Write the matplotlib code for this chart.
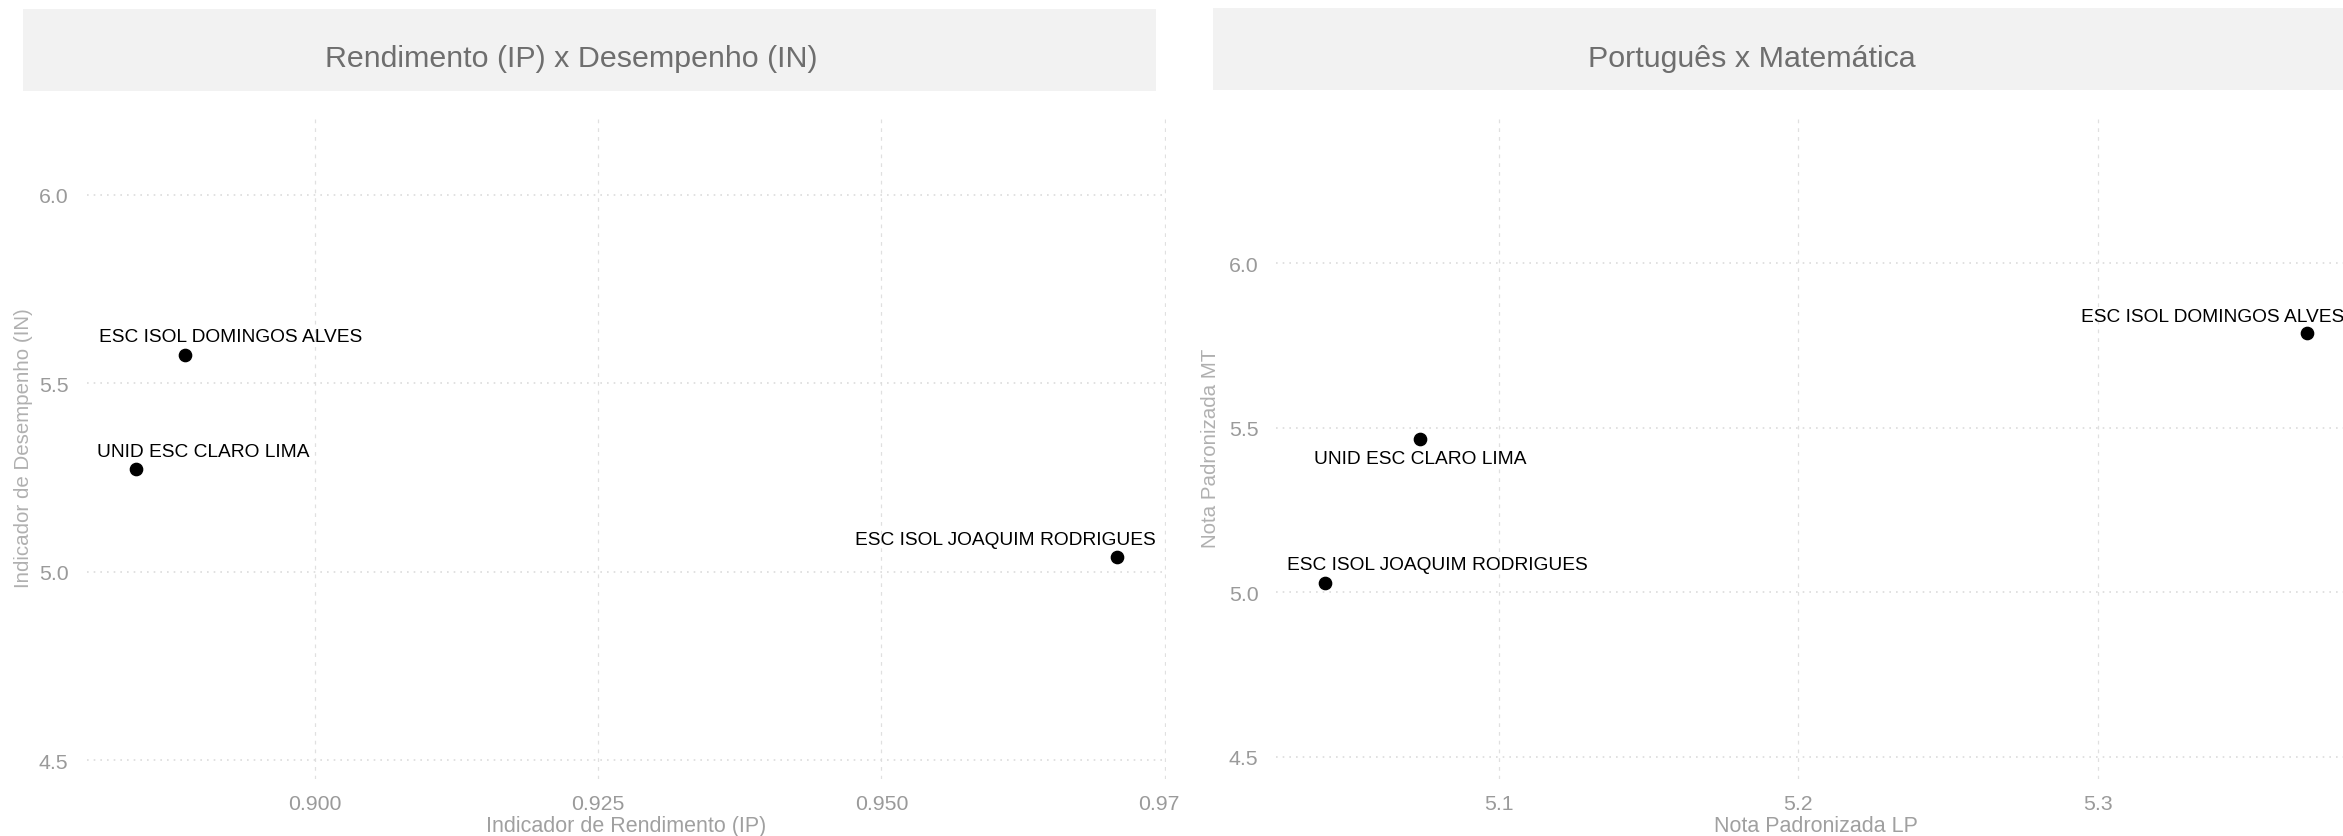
import numpy as np
import matplotlib
matplotlib.use("Agg")
import matplotlib.pyplot as plt
from matplotlib.patches import Rectangle
from matplotlib.transforms import Bbox, TransformedBbox

plt.rcParams['font.family'] = ['Liberation Sans', 'DejaVu Sans']

# escolas e indicadores
escolas = ['ESC ISOL DOMINGOS ALVES', 'UNID ESC CLARO LIMA', 'ESC ISOL JOAQUIM RODRIGUES']
ip = [0.8886, 0.8842, 0.9708]
in_ = [5.576, 5.272, 5.038]
lp = [5.3697, 5.0735, 5.0421]
mt = [5.787, 5.466, 5.028]

ip_ticks = [0.900, 0.925, 0.950, 0.975]
ip_labels = ['0.900', '0.925', '0.950', '0.975']
lp_ticks = [5.1, 5.2, 5.3]
lp_labels = ['5.1', '5.2', '5.3']
y_ticks = [4.5, 5.0, 5.5, 6.0]
y_labels = ['4.5', '5.0', '5.5', '6.0']

W, H = 2343, 837
fig = plt.figure(figsize=(W / 100, H / 100), dpi=100)
fig.patch.set_facecolor('white')

def px_rect(x0, x1, y0, y1):
    # pixel box (top-left origin) -> figure fraction
    return [x0 / W, 1 - y1 / H, (x1 - x0) / W, (y1 - y0) / H]

ax1 = fig.add_axes(px_rect(86.5, 1166.2, 117, 779.5))
ax2 = fig.add_axes(px_rect(1276.4, 2355.8, 117, 779.5))

# offsets (pixels) dos rotulos em relacao aos pontos
off1 = [(45, 18), (68, 18), (-112, 17.5)]
off2 = [(-94, 17), (1, -19.5), (112, 18.5)]

def expand(v):
    lo, hi = min(v), max(v)
    d = (hi - lo) * 0.05
    return lo - d, hi + d

def style(ax, xt, xl, xlabel, ylabel, ylim, xlim):
    ax.set_xlim(*xlim)
    ax.set_ylim(*ylim)
    ax.set_xticks(xt)
    ax.set_xticklabels(xl)
    ax.set_yticks(y_ticks)
    ax.set_yticklabels(y_labels)
    for s in ax.spines.values():
        s.set_visible(False)
    ax.tick_params(length=0, labelsize=15.3, colors='#9a9a9a')
    ax.tick_params(axis='x', pad=11)
    ax.tick_params(axis='y', pad=13)
    ax.xaxis.grid(True, color='#e0e0e0', linestyle=(0, (3, 4)), linewidth=0.9)
    ax.yaxis.grid(True, color='#dcdcdc', linestyle=(0, (1, 3)), linewidth=1.2)
    ax.set_axisbelow(True)
    ax.set_xlabel(xlabel, fontsize=15.5, color='#a0a0a0')
    ax.set_ylabel(ylabel, fontsize=14.8, color='#b0b0b0')
    ax.xaxis.label.set_va('center')
    ax.xaxis.set_label_coords(0.5, -(826.4 - 779.5) / 662.5)

style(ax1, ip_ticks, ip_labels, 'Indicador de Rendimento (IP)', 'Indicador de Desempenho (IN)',
      (4.451, 6.209), expand(ip))
style(ax2, lp_ticks, lp_labels, 'Nota Padronizada LP', 'Nota Padronizada MT',
      (4.434, 6.447), expand(lp))
ax1.yaxis.set_label_coords((24 - 86.5) / 1079.7, 0.5)
ax2.yaxis.set_label_coords((1211 - 1276.4) / 1079.4, 0.5)
ax1.yaxis.label.set_va('center')
ax2.yaxis.label.set_va('center')

ax1.scatter(ip, in_, s=78, color='black', zorder=3)
ax2.scatter(lp, mt, s=78, color='black', zorder=3)
for i, nome in enumerate(escolas):
    ax1.annotate(nome, (ip[i], in_[i]), xytext=off1[i], textcoords='offset pixels',
                 ha='center', va='center', fontsize=13.75, color='black', annotation_clip=False)
    ax2.annotate(nome, (lp[i], mt[i]), xytext=off2[i], textcoords='offset pixels',
                 ha='center', va='center', fontsize=13.75, color='black', annotation_clip=False)

# o painel da esquerda corta o rotulo 0.975
clip = TransformedBbox(Bbox.from_extents(0, 0, 1180 / W, 1), fig.transFigure)
for t in ax1.get_xticklabels():
    t.set_clip_box(clip)
    t.set_clip_on(True)

# faixas de titulo
strips = [(22.6, 1155.8, 10, 92, 'Rendimento (IP) x Desempenho (IN)', 570.8),
          (1213, 2346, 9, 91, 'Português x Matemática', 1752)]
for x0, x1, y0, y1, titulo, xc in strips:
    r = px_rect(x0, x1, y0, y1)
    fig.patches.append(Rectangle((r[0], r[1]), r[2], r[3], transform=fig.transFigure,
                                 facecolor='#f2f2f2', edgecolor='none', zorder=0))
    fig.text(xc / W, 1 - 59 / H, titulo, ha='center', va='center', fontsize=21.9, color='#6e6e6e')

fig.savefig('out.png', dpi=100)
